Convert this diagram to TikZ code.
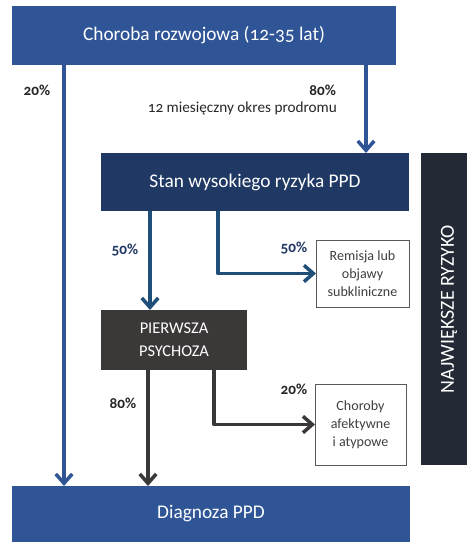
\documentclass[tikz,border=0pt]{standalone}
\usepackage{fontspec}
\setmainfont{Carlito}[Numbers=OldStyle]
\usetikzlibrary{positioning, calc, arrows.meta}

\definecolor{topblue}{HTML}{2F5597}
\definecolor{navy}{HTML}{203864}
\definecolor{steel}{HTML}{1F4E79}
\definecolor{charcoal}{HTML}{3B3838}
\definecolor{barcol}{HTML}{232A35}
\definecolor{labgray}{HTML}{262626}

\begin{document}
\begin{tikzpicture}[
      x=0.03cm, y=-0.03cm,
      mybox/.style={
         rectangle,
         anchor=north west,
         inner sep=0pt,
         outer sep=0pt,
         text=white,
         align=center,
         font=\fontsize{16.5}{20}\selectfont},
      mysmallbox/.style={
         rectangle,
         anchor=north west,
         draw=black!65,
         line width=0.7pt,
         fill=white,
         inner sep=0pt,
         outer sep=0pt,
         text=black!75,
         align=center,
         font=\fontsize{12}{15.5}\selectfont},
      pct/.style={font=\bfseries\fontsize{13}{15}\selectfont, text=labgray},
      myarrow/.style={-{Straight Barb[length=8pt, width=14pt, line width=3pt]},
         line width=3.2pt, line join=round},
      ]
      \useasboundingbox (0,0) rectangle (467,542);

      % boxes
      \node[mybox, fill=topblue, minimum width=11.52cm, minimum height=1.77cm] (top) at (12,6) {Choroba rozwojowa (12-35 lat)};
      \node[mybox, fill=navy, minimum width=9.24cm, minimum height=1.74cm] (stan) at (101,153) {Stan wysokiego ryzyka PPD};
      \node[mybox, fill=charcoal, minimum width=4.38cm, minimum height=1.8cm,
         font=\fontsize{14}{20}\selectfont] (psy) at (101,310) {PIERWSZA\\PSYCHOZA};
      \node[mysmallbox, minimum width=2.79cm, minimum height=2.01cm] (rem) at (316,240) {Remisja lub\\objawy\\subkliniczne};
      \node[mysmallbox, minimum width=2.73cm, minimum height=2.43cm] (afe) at (315,384) {Choroby\\afektywne\\i atypowe};
      \node[mybox, fill=topblue, minimum width=11.94cm, minimum height=1.68cm] (diag) at (12,486) {Diagnoza PPD};
      \node[mybox, fill=barcol, minimum width=1.38cm, minimum height=9.36cm] (bar) at (421,153) {};
      \node[rotate=90, text=white, font=\fontsize{17}{20}\selectfont] (risk) at ($(bar.center)+(5,0)$) {NAJWIĘKSZE RYZYKO};

      % arrows from the top box
      \draw[myarrow, topblue] ($(top.south west)+(52,0)$) coordinate (a1) -- (a1 |- diag.north);
      \draw[myarrow, topblue] ($(top.south west)+(354,0)$) coordinate (a2) -- (a2 |- stan.north);

      % arrows from the high risk state
      \draw[myarrow, steel] ($(stan.south west)+(49,0)$) coordinate (b1) -- (b1 |- psy.north);
      \draw[myarrow, steel] ($(stan.south west)+(117,0)$) |- (rem.west);

      % arrows from the first psychosis
      \draw[myarrow, charcoal] ($(psy.south west)+(47,0)$) coordinate (c1) -- (c1 |- diag.north);
      \draw[myarrow, charcoal] ($(psy.south west)+(113,0)$) |- (afe.west);

      % labels
      \node[pct] (p20) at (37,90) {20\%};
      \node[pct, anchor=east] (p80) at (340,90) {80\%};
      \node[anchor=east, text=labgray, font=\fontsize{13}{15}\selectfont] (prod) at (341,108) {12 miesięczny okres prodromu};
      \node[pct, text=navy] (p50a) at (125,250) {50\%};
      \node[pct, text=navy] (p50b) at (294,248) {50\%};
      \node[pct] (p80b) at (123,403) {80\%};
      \node[pct] (p20b) at (294,389) {20\%};
    \end{tikzpicture}
\end{document}
